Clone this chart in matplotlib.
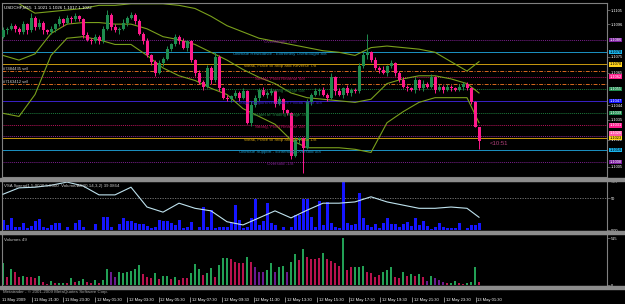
import matplotlib
matplotlib.use('Agg')
import matplotlib.pyplot as plt
from matplotlib.patches import Rectangle
import numpy as np

plt.rcParams['font.family'] = ['Liberation Sans', 'DejaVu Sans']

# USDCHF M15 candles (open of each bar = previous close)
first_open = 1.1088
closes = [1.1092, 1.1093, 1.1095, 1.1093, 1.1091, 1.1096, 1.1092, 1.1100, 1.1094, 1.1097,
          1.1092, 1.1091, 1.1093, 1.1096, 1.1099, 1.1097, 1.1100, 1.1099, 1.1101, 1.1099,
          1.1089, 1.1086, 1.1085, 1.1088, 1.1085, 1.1093, 1.1102, 1.1094, 1.1092, 1.1093,
          1.1097, 1.1100, 1.1102, 1.1098, 1.1090, 1.1085, 1.1076, 1.1072, 1.1065, 1.1071,
          1.1074, 1.1080, 1.1083, 1.1088, 1.1085, 1.1081, 1.1085, 1.1073, 1.1065, 1.1059,
          1.1056, 1.1068, 1.1060, 1.1075, 1.1055, 1.1049, 1.1048, 1.1050, 1.1052, 1.1049,
          1.1053, 1.1033, 1.1044, 1.1049, 1.1054, 1.1051, 1.1052, 1.1053, 1.1045, 1.1048,
          1.1041, 1.1039, 1.1012, 1.1022, 1.1023, 1.1017, 1.1046, 1.1051, 1.1053, 1.1054,
          1.1051, 1.1049, 1.1062, 1.1053, 1.1051, 1.1055, 1.1052, 1.1054, 1.1053, 1.1069,
          1.1076, 1.1078, 1.1073, 1.1068, 1.1067, 1.1065, 1.1069, 1.1071, 1.1065, 1.1060,
          1.1056, 1.1055, 1.1054, 1.1060, 1.1055, 1.1058, 1.1056, 1.1062, 1.1054, 1.1056,
          1.1054, 1.1056, 1.1055, 1.1054, 1.1056, 1.1058, 1.1055, 1.1046, 1.1030, 1.1021]
# wick lengths in pips
upper_wick = [2, 1, 2, 1, 1, 2, 1, 3, 1, 2, 1, 1, 2, 1, 2, 1, 2, 1, 2, 1,
              1, 2, 1, 2, 1, 2, 3, 1, 2, 1, 2, 1, 2, 1, 1, 1, 2, 1, 1, 2,
              1, 2, 1, 2, 1, 2, 1, 1, 1, 2, 1, 2, 1, 3, 1, 1, 2, 1, 2, 1,
              2, 1, 3, 2, 1, 2, 1, 2, 1, 2, 1, 1, 1, 2, 1, 1, 2, 1, 2, 1,
              2, 1, 3, 1, 2, 1, 2, 1, 1, 2, 2, 12, 1, 2, 1, 2, 1, 2, 1, 1,
              2, 1, 1, 2, 1, 2, 1, 2, 1, 2, 1, 2, 1, 1, 2, 1, 1, 1, 1, 0]
lower_wick = [1, 2, 1, 2, 1, 1, 2, 1, 2, 1, 2, 1, 1, 2, 1, 2, 1, 2, 1, 1,
              2, 1, 2, 1, 2, 1, 1, 2, 1, 2, 1, 2, 1, 2, 1, 2, 1, 2, 2, 1,
              2, 1, 1, 1, 2, 1, 2, 1, 2, 1, 2, 1, 2, 1, 2, 1, 1, 2, 1, 2,
              1, 1, 2, 1, 2, 1, 2, 1, 2, 1, 2, 1, 2, 1, 2, 16, 1, 2, 1, 2,
              1, 2, 1, 2, 1, 2, 1, 2, 1, 1, 1, 2, 1, 1, 2, 1, 2, 1, 2, 1,
              1, 2, 1, 2, 1, 2, 1, 1, 2, 1, 2, 1, 2, 1, 1, 2, 1, 1, 0, 5]

# Bollinger bands, read every 4th bar
band_idx = [0, 4, 8, 12, 16, 20, 24, 28, 32, 36, 40, 44, 48, 52, 56, 60,
            64, 68, 72, 76, 80, 84, 88, 92, 96, 100, 104, 108, 112, 116, 119]
bb_upper = [1.1114, 1.1109, 1.1103, 1.1104, 1.1105, 1.1106, 1.1108, 1.1108, 1.1109, 1.1109,
            1.1109, 1.1108, 1.1106, 1.1101, 1.1095, 1.1091, 1.1087, 1.1085, 1.1083, 1.1081,
            1.1079, 1.1078, 1.1076, 1.1081, 1.1082, 1.1081, 1.1080, 1.1078, 1.1072, 1.1066, 1.1072]
bb_mid = [1.1076, 1.1073, 1.1077, 1.1090, 1.1096, 1.1097, 1.1097, 1.1096, 1.1096, 1.1093,
          1.1088, 1.1086, 1.1083, 1.1078, 1.1073, 1.1067, 1.1062, 1.1058, 1.1052, 1.1049,
          1.1048, 1.1047, 1.1046, 1.1048, 1.1058, 1.1061, 1.1063, 1.1063, 1.1061, 1.1058, 1.1052]
bb_lower = [1.1039, 1.1037, 1.1051, 1.1076, 1.1087, 1.1088, 1.1086, 1.1083, 1.1083, 1.1076,
            1.1068, 1.1063, 1.1060, 1.1055, 1.1051, 1.1042, 1.1037, 1.1032, 1.1022, 1.1017,
            1.1017, 1.1017, 1.1016, 1.1014, 1.1033, 1.1040, 1.1046, 1.1049, 1.1049, 1.1049, 1.1033]

# Murrey math levels -1/8 .. +1/8
murrey_levels = [1.10078, 1.10156, 1.10234, 1.10313, 1.10391, 1.10469,
                 1.10547, 1.10625, 1.10703, 1.10781, 1.10859]
murrey_labels = ['Oversold -1/8',
                 'Ultimate Support - Extremely Oversold 0/8',
                 'Weak, Place to Stop and Reverse 1/8',
                 'Strong, Pivot Reverse 2/8',
                 'Bottom of Trading Range 3/8',
                 'Major Support/Resistance Pivotal Point 4/8',
                 'Top of Trading Range 5/8',
                 'Strong, Pivot Reverse 6/8',
                 'Weak, Place to Stop and Reverse 7/8',
                 'Ultimate Resistance - Extremely Overbought 8/8',
                 'Overbought +1/8']
murrey_colors = ['#7a1f8c', '#1c93c4', '#c99a10', '#b8145a', '#1d7a3c', '#3a22c8',
                 '#1d7a3c', '#b8145a', '#c99a10', '#1c93c4', '#7a1f8c']
murrey_dotted = [True, False, False, True, True, False, True, True, False, False, True]
box_colors = ['#7d1fa0', '#19b2ea', '#ffd21c', '#ff1a8c', '#1e8a4e', '#1010ff',
              '#1e8a4e', '#ff1a8c', '#ffd21c', '#19b2ea', '#7d1fa0']
extra_level = 1.10262

order_prices = [1.1066, 1.1058]
order_labels = ['#7484435 sell', '#7163412 sell']

price_ticks = [1.1105, 1.1096, 1.1075, 1.1065, 1.1044, 1.1035, 1.1022, 1.1005]

# VSA sub window
vsa_bars = [16, 8, 19, 5, 5, 11, 3, 6, 14, 17, 5, 3, 8, 11, 11, 0, 5, 0, 11, 16,
            5, 0, 0, 9, 0, 20, 20, 5, 0, 9, 19, 14, 14, 11, 9, 9, 6, 3, 5, 16,
            14, 14, 11, 8, 16, 3, 5, 13, 0, 5, 36, 5, 31, 3, 5, 5, 5, 11, 39, 16,
            3, 5, 19, 48, 8, 14, 42, 11, 8, 0, 5, 0, 5, 23, 23, 48, 48, 20, 5, 45,
            8, 44, 11, 5, 3, 75, 11, 8, 9, 58, 19, 8, 5, 9, 3, 11, 19, 9, 9, 5,
            9, 13, 6, 19, 8, 14, 6, 2, 5, 11, 5, 3, 3, 3, 11, 0, 3, 8, 8, 11]
vsa_line = [56, 66, 67, 70, 75, 69, 55, 55, 67, 36, 28, 42, 34, 30, 13, 8,
            19, 30, 19, 31, 42, 42, 44, 52, 44, 39, 34, 34, 36, 34, 20]

# Volumes sub window
volumes = [242, 88, 176, 143, 88, 99, 88, 88, 77, 99, 33, 11, 44, 22, 22, 22, 22, 77, 33, 44,
           66, 33, 22, 55, 22, 55, 176, 143, 88, 143, 132, 143, 154, 176, 220, 121, 88, 77, 132, 66,
           99, 99, 66, 88, 55, 77, 77, 132, 231, 176, 110, 132, 187, 88, 220, 297, 297, 286, 253, 242,
           242, 308, 253, 198, 143, 143, 165, 242, 143, 198, 209, 143, 253, 341, 275, 396, 308, 286, 286, 297,
           352, 286, 264, 242, 209, 515, 165, 198, 198, 198, 209, 143, 132, 88, 110, 143, 165, 198, 88, 77,
           143, 99, 121, 99, 121, 88, 44, 99, 77, 55, 33, 22, 22, 44, 22, 11, 22, 33, 198, 33]
vol_colors = list("grgrrgrrrg" "rrgrggrgrg" "grrgrggppg" "gggggrrrgr"
                  "ggrgrrrggg" "rggrgggrrr" "rgrpppggpg" "gpggrgrrrr"
                  "grrrrgrrgg" "grrrrgggrr" "grgrgrpgpp" "prggrrgggr")

time_labels = ['11 May 2009', '11 May 21:30', '11 May 23:30', '12 May 01:30',
               '12 May 03:30', '12 May 05:30', '12 May 07:30', '12 May 09:30',
               '12 May 11:30', '12 May 13:30', '12 May 15:30', '12 May 17:30',
               '12 May 19:30', '12 May 21:30', '12 May 23:30', '13 May 01:30']

BULL = '#1e8c4e'
BEAR = '#ff1a8c'
GRID = '#808080'
FS = 3.2
AXFS = 2.9

closes = np.array(closes)
opens = np.concatenate([[first_open], closes[:-1]])
highs = np.maximum(opens, closes) + np.array(upper_wick) * 0.0001
lows = np.minimum(opens, closes) - np.array(lower_wick) * 0.0001
x = np.arange(len(closes))

fig = plt.figure(figsize=(6.25, 3.04), dpi=100, facecolor='black')
ax = fig.add_axes([0.0032, 0.41776, 0.968, 0.57237])
ax1 = fig.add_axes([0.0032, 0.24013, 0.968, 0.16447], sharex=ax)
ax2 = fig.add_axes([0.0032, 0.05921, 0.968, 0.17105], sharex=ax)

for a in (ax, ax1, ax2):
    a.set_facecolor('black')
    for s in a.spines.values():
        s.set_color(GRID)
        s.set_linewidth(0.8)
    a.yaxis.tick_right()
    a.tick_params(axis='y', color=GRID, labelcolor='white', labelsize=AXFS,
                  length=2, width=0.5, pad=1)
    a.tick_params(axis='x', bottom=False, labelbottom=False)

ax.set_xlim(-0.25, 151)
ax.set_ylim(1.09983, 1.11095)

# Murrey lines
for lev, lab, c, dot in zip(murrey_levels, murrey_labels, murrey_colors, murrey_dotted):
    ax.axhline(lev, color=c, lw=0.7, ls=(0, (1, 1)) if dot else '-', zorder=1)
    ax.text(69.25, lev, lab, color=c, fontsize=FS, ha='center', va='top', zorder=5)
ax.axhline(extra_level - 0.0002, color='#8b2a8b', lw=0.7, ls=(0, (1, 1)), zorder=1)

# order lines
for p, lab in zip(order_prices, order_labels):
    ax.axhline(p, color='#d86a1e', lw=0.7, ls=(0, (4, 1.5, 1, 1.5)), zorder=1)
    ax.text(0.1, p, lab, color='#d0d0d0', fontsize=FS - 0.2, ha='left', va='bottom', zorder=5)

# bands
for band in (bb_upper, bb_mid, bb_lower):
    ax.plot(band_idx, band, color='#7aa01c', lw=0.8, zorder=2)

# candles
cols = [BULL if c >= o else BEAR for o, c in zip(opens, closes)]
ax.vlines(x, lows, highs, colors=cols, lw=0.7, zorder=3)
body = np.maximum(np.abs(closes - opens), 0.00004)
ax.bar(x, body, bottom=np.minimum(opens, closes), width=0.75, color=cols, zorder=4)

ax.set_yticks(price_ticks)
ax.set_yticklabels([f'{p:.4f}' for p in price_ticks])

for lev, bc in zip(murrey_levels, box_colors):
    tc = 'black' if bc in ('#ffd21c', '#19b2ea') else 'white'
    ax.text(1.004, lev, f'{lev:.4f}', transform=ax.get_yaxis_transform(), color=tc,
            fontsize=AXFS, ha='left', va='center', clip_on=False, zorder=6,
            bbox=dict(boxstyle='square,pad=0.05', fc=bc, ec='none'))
ax.text(1.004, extra_level, f'{extra_level:.4f}', transform=ax.get_yaxis_transform(),
        color='white', fontsize=AXFS, ha='left', va='center', clip_on=False, zorder=5,
        bbox=dict(boxstyle='square,pad=0.05', fc='#ff5aa8', ec='none'))

ax.text(0.003, 0.985, 'USDCHF,M15  1.1021 1.1026 1.1017 1.1022', transform=ax.transAxes,
        color='white', fontsize=FS, ha='left', va='top')
ax.text(len(closes) + 1.8, closes[-1], '<10:51', color='#b0407a', fontsize=4.3,
        ha='left', va='top')

# VSA panel
ax1.set_ylim(-1.5, 76.7)
ax1.bar(x, vsa_bars, width=0.75, color='#1515ff', zorder=2)
ax1.plot(band_idx, vsa_line, color='#bfe3ef', lw=0.8, zorder=3)
ax1.axhline(50, color=GRID, lw=0.6, ls=(0, (1.5, 1.5)), zorder=1)
ax1.set_yticks([76.7, 50, 0])
ax1.set_yticklabels(['76.7', '50', '0.00'])
ax1.text(0.003, 0.95, 'VSA Spread1 5.0000 5.0000  Volume/ASI(0.14,3,2) 39.0864',
         transform=ax1.transAxes, color='#c8c8c8', fontsize=FS, ha='left', va='top')

# Volumes panel
ax2.set_ylim(-11, 561)
vol_map = {'g': ('#22a055', 0.7), 'r': ('#b8124e', 0.3), 'p': ('#6a1a90', 0.3)}
for key, (c, w) in vol_map.items():
    sel = [i for i, k in enumerate(vol_colors) if k == key]
    ax2.bar(x[sel], np.array(volumes)[sel], width=w, color=c)
ax2.set_yticks([515, 0])
ax2.set_yticklabels(['515', '0'])
ax2.text(0.003, 0.93, 'Volumes 49', transform=ax2.transAxes, color='#c8c8c8',
         fontsize=FS, ha='left', va='top')

# time axis
tick_pos = np.arange(len(time_labels)) * 7.925 - 0.75
xt = ax2.get_xaxis_transform()
ax2.vlines(tick_pos[1:], -0.31, -0.21, transform=xt, color='#c0c0c0', lw=0.5, clip_on=False)
for p, lab in zip(tick_pos, time_labels):
    ax2.text(p + 0.45, -0.27, lab, transform=xt, color='white', fontsize=3.0,
             ha='left', va='center', clip_on=False)
ax2.text(0.1, -0.115, 'Metatrader - \u00a9 2001-2009 MetaQuotes Software Corp.', transform=xt,
         color='#a8a8a8', fontsize=FS, ha='left', va='center', clip_on=False)

# panel separators
for ytop in (177.5, 231, 286):
    fig.patches.append(Rectangle((0, 1 - (ytop + 3) / 304), 1, 3 / 304,
                                 transform=fig.transFigure, color='#8c8c8c', zorder=0))

fig.savefig('out.png', dpi=100, facecolor='black')
